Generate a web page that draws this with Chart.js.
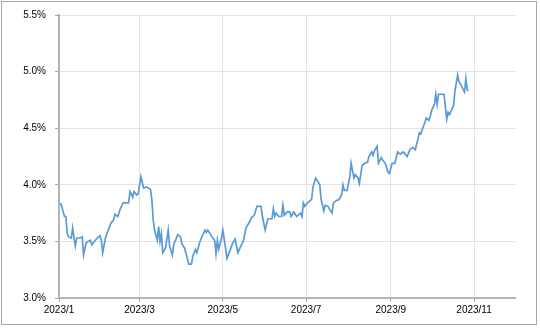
<!DOCTYPE html>
<html>
<head>
<meta charset="utf-8">
<script src="https://cdn.jsdelivr.net/npm/chart.js@4"></script>
<style>
  html, body { margin: 0; padding: 0; background: #fff; }
  #wrap { position: relative; width: 540px; height: 328px; }
</style>
</head>
<body>
<div id="wrap"><canvas id="myChart" width="540" height="328"></canvas></div>
<script>
// day of year (0 = 2023/1/1) for each reading
let days = [1, 2, 4, 5, 6, 7, 9, 10, 11, 12, 13, 15, 17, 18, 19, 20, 23, 24, 26, 28,
  30, 31, 32, 34, 36, 38, 40, 41, 43, 45, 47, 49, 51, 52, 53, 54, 55, 57, 58, 60,
  62, 64, 67, 68, 69, 70, 72, 73, 74, 75, 76, 78, 80, 81, 83, 84, 87, 89, 90, 92,
  94, 95, 97, 98, 100, 101, 103, 105, 107, 108, 109, 111, 112, 114, 115, 116, 117, 119, 120, 122,
  123, 125, 127, 129, 131, 134, 135, 137, 139, 141, 143, 145, 146, 148, 149, 150, 151, 153, 156, 157,
  158, 159, 161, 163, 164, 165, 167, 169, 170, 172, 174, 175, 177, 178, 179, 180, 182, 184, 185, 186,
  188, 189, 191, 192, 194, 195, 197, 198, 200, 201, 203, 205, 207, 208, 209, 211, 213, 214, 216, 217,
  219, 220, 222, 224, 226, 227, 229, 230, 231, 233, 234, 236, 237, 239, 241, 242, 244, 246, 248, 250,
  252, 253, 255, 257, 259, 261, 263, 264, 265, 267, 268, 269, 271, 272, 273, 275, 276, 277, 278, 281,
  282, 284, 285, 286, 289, 290, 292, 293, 295, 297, 298, 299, 300];

// yield, %
let yields = [3.84, 3.81, 3.72, 3.72, 3.57, 3.54, 3.53, 3.62, 3.53, 3.46, 3.53, 3.53, 3.54, 3.38, 3.44, 3.49, 3.51, 3.47, 3.50, 3.53,
  3.55, 3.51, 3.40, 3.53, 3.60, 3.66, 3.69, 3.74, 3.72, 3.79, 3.84, 3.84, 3.84, 3.94, 3.92, 3.89, 3.94, 3.91, 3.92, 4.07,
  3.97, 3.98, 3.96, 3.87, 3.69, 3.60, 3.51, 3.63, 3.50, 3.57, 3.40, 3.44, 3.60, 3.46, 3.38, 3.47, 3.56, 3.54, 3.48, 3.44,
  3.35, 3.30, 3.30, 3.37, 3.43, 3.40, 3.49, 3.55, 3.60, 3.58, 3.60, 3.56, 3.54, 3.51, 3.39, 3.51, 3.43, 3.53, 3.60, 3.44,
  3.35, 3.41, 3.48, 3.52, 3.40, 3.48, 3.50, 3.62, 3.66, 3.71, 3.73, 3.81, 3.81, 3.81, 3.72, 3.66, 3.60, 3.70, 3.70, 3.79,
  3.72, 3.75, 3.72, 3.72, 3.82, 3.73, 3.76, 3.76, 3.72, 3.76, 3.72, 3.73, 3.75, 3.72, 3.84, 3.81, 3.84, 3.86, 3.87, 3.98,
  4.06, 4.04, 4.00, 3.87, 3.77, 3.82, 3.81, 3.79, 3.75, 3.84, 3.86, 3.87, 3.91, 4.00, 3.95, 3.95, 4.07, 4.19, 4.06, 4.09,
  4.06, 4.01, 4.17, 4.19, 4.20, 4.25, 4.29, 4.26, 4.30, 4.34, 4.19, 4.24, 4.22, 4.19, 4.11, 4.10, 4.19, 4.19, 4.29, 4.27,
  4.29, 4.28, 4.25, 4.31, 4.33, 4.31, 4.41, 4.46, 4.45, 4.52, 4.55, 4.59, 4.57, 4.61, 4.66, 4.71, 4.80, 4.71, 4.80, 4.80,
  4.80, 4.58, 4.64, 4.62, 4.70, 4.83, 4.97, 4.91, 4.87, 4.82, 4.94, 4.84, 4.83];

// x axis ticks: first day of odd months
let tickDays = [0, 59, 120, 181, 243, 304];
let tickLabels = ['2023/1', '2023/3', '2023/5', '2023/7', '2023/9', '2023/11'];
let yTicks = [3.0, 3.5, 4.0, 4.5, 5.0, 5.5];

let points = days.map(function (d, i) { return { x: d, y: yields[i] }; });

let frame = {
  id: 'frame',
  afterDraw: function (chart) {
    let c = chart.ctx;
    c.save();
    c.strokeStyle = '#a6a6a6';
    c.lineWidth = 1;
    c.strokeRect(1.5, 1.5, 535, 323);
    c.restore();
  }
};

let font = { family: 'Liberation Sans', size: 10 };

let config = {
  type: 'line',
  data: {
    datasets: [{
      data: points,
      borderColor: '#5b9bd5',
      borderWidth: 1.7,
      pointRadius: 0,
      tension: 0,
      fill: false
    }]
  },
  options: {
    responsive: false,
    animation: false,
    layout: { padding: { left: 0, top: 9, right: 25, bottom: 0 } },
    plugins: { legend: { display: false }, tooltip: { enabled: false } },
    scales: {
      x: {
        type: 'linear',
        min: 0,
        max: 334,
        afterBuildTicks: function (s) {
          s.ticks = tickDays.map(function (v) { return { value: v }; });
        },
        afterFit: function (s) { s.height = 30; },
        ticks: {
          autoSkip: false,
          maxRotation: 0,
          color: '#000',
          font: font,
          padding: 2,
          callback: function (v) {
            let i = tickDays.indexOf(v);
            return i >= 0 ? tickLabels[i] : '';
          }
        },
        grid: { color: '#e3e3e3', tickColor: '#a6a6a6', tickLength: 4 },
        border: { color: '#b4b4b4', width: 2 }
      },
      y: {
        min: 3.0,
        max: 5.5,
        afterBuildTicks: function (s) {
          s.ticks = yTicks.map(function (v) { return { value: v }; });
        },
        afterFit: function (s) { s.width = 59; },
        ticks: {
          color: '#000',
          font: font,
          padding: 9,
          callback: function (v) { return v.toFixed(1) + '%'; }
        },
        grid: { color: '#e3e3e3', tickColor: '#a6a6a6', tickLength: 4 },
        border: { color: '#b4b4b4', width: 2 }
      }
    }
  },
  plugins: [frame]
};

let myChart = new Chart(document.getElementById('myChart'), config);
</script>
</body>
</html>
